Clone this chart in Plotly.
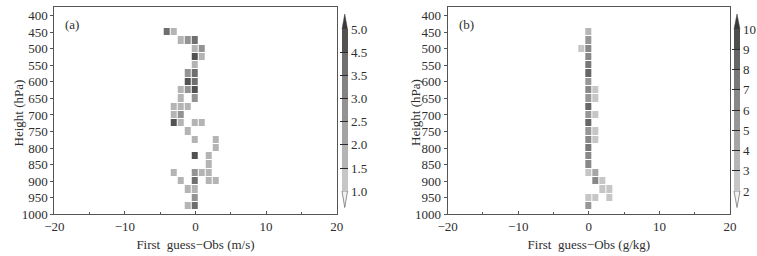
import numpy as np
import plotly.graph_objects as go

# ---------------- data ----------------
# panel (a): wind  (First guess - Obs, m/s)
a_height = [450, 450, 475, 475, 475, 500, 500, 525, 525, 550, 575, 575, 600, 600,
            625, 625, 625, 650, 650, 675, 675, 675, 700, 700, 725, 725, 725, 725,
            750, 775, 775, 800, 825, 825, 850, 875, 875, 875, 875, 900, 900, 900, 900,
            925, 925, 950, 975, 975]
a_bias = [-4, -3, -2, -1, 0, 0, 1, 0, 1, 0, -1, 0, -1, 0,
          -2, -1, 0, -2, 0, -3, -2, -1, -3, -2, -3, -2, 0, 1,
          -1, 0, 3, 3, 0, 2, 2, -3, 0, 1, 2, -2, 0, 2, 3,
          -1, 0, 0, -1, 0]
a_value = [3.8, 1.7, 1.7, 2.8, 3.8, 1.7, 2.8, 4.8, 1.7, 1.7, 2.8, 3.8, 4.8, 3.8,
           1.7, 2.8, 4.8, 1.7, 2.8, 1.7, 1.7, 1.7, 1.7, 2.8, 4.8, 1.7, 1.7, 1.7,
           1.7, 1.7, 1.7, 1.7, 4.8, 1.7, 1.7, 1.7, 2.8, 1.7, 1.7, 1.7, 3.8, 1.7, 1.7,
           1.7, 1.7, 2.8, 1.7, 3.8]
a_levels = [1.0, 1.5, 2.0, 2.5, 3.0, 3.5, 4.5, 5.0]
a_labels = ["1.0", "1.5", "2.0", "2.5", "3.0", "3.5", "4.5", "5.0"]

# panel (b): humidity (First guess - Obs, g/kg)
b_height = [450, 475, 500, 500, 525, 550, 575, 600, 625, 625, 650, 650, 675,
            700, 700, 725, 750, 750, 775, 775, 800, 825, 850, 875, 875,
            900, 900, 925, 925, 950, 950, 950, 975]
b_bias = [0, 0, -1, 0, 0, 0, 0, 0, 0, 1, 0, 1, 0,
          0, 1, 0, 0, 1, 0, 1, 0, 0, 0, 0, 1,
          1, 2, 2, 3, 0, 1, 3, 0]
b_value = [3.5, 5.5, 2.5, 6.0, 6.5, 7.0, 8.5, 5.5, 6.0, 2.5, 5.5, 2.5, 8.8,
           5.5, 2.5, 8.3, 5.5, 2.5, 6.0, 2.5, 7.0, 6.0, 6.0, 2.5, 4.5,
           6.5, 2.5, 2.5, 2.5, 2.5, 2.5, 2.5, 5.5]
b_levels = [2, 3, 4, 5, 6, 7, 8, 9, 10]
b_labels = ["2", "3", "4", "5", "6", "7", "8", "9", "10"]

y_ticks = list(range(400, 1001, 50))
y_range = [1000, 375]
x_ticks = [-20, -10, 0, 10, 20]

# ---------------- styles ----------------
FONT = "Liberation Serif"
TXT = "#2e2e2e"
LINE = "#555555"
W, H = 757, 256

a_colors = ["#c6c6c6", "#b4b4b4", "#a3a3a3", "#939393", "#838383", "#6f6f6f", "#525252"]
b_colors = ["#c6c6c6", "#b6b6b6", "#a6a6a6", "#979797", "#888888", "#787878", "#666666", "#4e4e4e"]
top_tri = "#3a3a3a"
bot_tri = "#f2f2f2"


def px(x):
    return x / W


def py(y):
    return 1 - y / H


def disc_scale(cols):
    n = len(cols)
    sc = []
    for i, c in enumerate(cols):
        sc.append([i / n, c])
        sc.append([(i + 1) / n, c])
    return sc


def grid(heights, biases, values, levels):
    xs = np.arange(min(biases), max(biases) + 1)
    ys = np.arange(min(heights), max(heights) + 1, 25)
    z = np.full((len(ys), len(xs)), np.nan)
    for h, b, v in zip(heights, biases, values):
        idx = np.searchsorted(levels, v, side="right") - 1 + 0.5
        z[list(ys).index(h), list(xs).index(b)] = idx
    return xs, ys, z


# window-pixel geometry
ax_a = (54.3, 336.7)
ax_b = (447.7, 730.0)
y_top, y_bot = 7.3, 214.3
cb_top, cb_bot = 29.3, 191.0
cb_a = (342.0, 347.5)
cb_b = (734.0, 740.0)
tri_top_tip, tri_bot_tip = 14.0, 207.5

fig = go.Figure()

for (hts, bs, vs, lv, lab, cols, xa, ya, cbx) in [
    (a_height, a_bias, a_value, a_levels, a_labels, a_colors, "x", "y", cb_a),
    (b_height, b_bias, b_value, b_levels, b_labels, b_colors, "x2", "y2", cb_b),
]:
    xs, ys, z = grid(hts, bs, vs, lv)
    n = len(lv) - 1
    fig.add_trace(go.Heatmap(
        x=xs, y=ys, z=z, xaxis=xa, yaxis=ya,
        zmin=0, zmax=n, colorscale=disc_scale(cols),
        xgap=1, ygap=1, hoverongaps=False,
        colorbar=dict(
            x=px(cbx[0]), xanchor="left", xpad=0, ypad=0,
            y=py((cb_top + cb_bot) / 2), yanchor="middle",
            lenmode="pixels", len=cb_bot - cb_top,
            thicknessmode="pixels", thickness=cbx[1] - cbx[0],
            outlinewidth=0,
            tickmode="array", tickvals=list(range(n + 1)), ticktext=lab,
            ticks="inside", ticklen=cbx[1] - cbx[0] + 2, tickcolor="#2a2a2a", tickwidth=1,
            tickfont=dict(family=FONT, size=13, color=TXT),
        ),
    ))
    # end triangles
    x0p, x1p = px(cbx[0]), px(cbx[1])
    xc = (x0p + x1p) / 2
    fig.add_shape(type="path", xref="paper", yref="paper",
                  path=f"M {x0p},{py(cb_top)} L {x1p},{py(cb_top)} L {xc},{py(tri_top_tip)} Z",
                  fillcolor=top_tri, line=dict(color=top_tri, width=0.5))
    fig.add_shape(type="path", xref="paper", yref="paper",
                  path=f"M {x0p},{py(cb_bot)} L {x1p},{py(cb_bot)} L {xc},{py(tri_bot_tip)} Z",
                  fillcolor=bot_tri, line=dict(color="#666666", width=0.7))

ydom = [py(y_bot), py(y_top)]

common_x = dict(range=[-20, 20], tickmode="array", tickvals=x_ticks,
                ticktext=["\u221220", "\u221210", "0", "10", "20"],
                ticks="inside", ticklen=3, tickcolor=LINE,
                minor=dict(dtick=5, ticks="inside", ticklen=2, tickcolor=LINE),
                showline=True, linecolor=LINE, linewidth=1, mirror=True,
                showgrid=False, zeroline=False, automargin=False,
                tickfont=dict(family=FONT, size=13, color=TXT))
common_y = dict(range=y_range, tickmode="array", tickvals=y_ticks,
                ticks="outside", ticklen=3, tickcolor=LINE,
                showline=True, linecolor=LINE, linewidth=1, mirror=True,
                showgrid=False, zeroline=False, automargin=False,
                tickfont=dict(family=FONT, size=13, color=TXT))

title_font = dict(family=FONT, size=13, color=TXT)
fig.update_layout(
    width=W, height=H, margin=dict(l=0, r=0, t=0, b=0, autoexpand=False),
    paper_bgcolor="white", plot_bgcolor="white", showlegend=False,
    xaxis=dict(domain=[px(ax_a[0]), px(ax_a[1])], anchor="y",
               title=dict(text="First  guess\u2212Obs (m/s)", font=title_font, standoff=6),
               **common_x),
    yaxis=dict(domain=ydom, anchor="x", **common_y),
    xaxis2=dict(domain=[px(ax_b[0]), px(ax_b[1])], anchor="y2",
                title=dict(text="First  guess\u2212Obs (g/kg)", font=title_font, standoff=6),
                **common_x),
    yaxis2=dict(domain=ydom, anchor="x2", **common_y),
    annotations=[
        dict(text="(a)", x=px(72), y=py(24), xref="paper", yref="paper", showarrow=False,
             xanchor="center", yanchor="middle", font=title_font),
        dict(text="(b)", x=px(466), y=py(24), xref="paper", yref="paper", showarrow=False,
             xanchor="center", yanchor="middle", font=title_font),
        dict(text="Height (hPa)", x=px(17.5), y=py(113), xref="paper", yref="paper",
             xanchor="center", yanchor="middle",
             showarrow=False, textangle=-90, font=title_font),
        dict(text="Height (hPa)", x=px(415), y=py(113), xref="paper", yref="paper",
             xanchor="center", yanchor="middle",
             showarrow=False, textangle=-90, font=title_font),
    ],
)

# remove the default page margin so the figure fills the 757x256 window exactly
fig.write_html("out.html", config={"displayModeBar": False},
               post_script="document.body.style.margin='0';document.body.style.overflow='hidden';")
